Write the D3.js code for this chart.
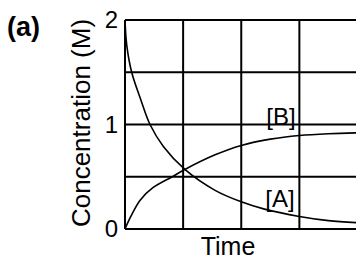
<!DOCTYPE html>
<html>
<head>
<meta charset="utf-8">
<script src="https://cdn.jsdelivr.net/npm/d3@7"></script>
<style>
	body { margin: 0; background: #fff; }
	text { font-family: "Liberation Sans", Arial, sans-serif; fill: #000; }
</style>
</head>
<body>
<script>
// values (time in grid units)
var timeA = [0, 0.03, 0.115, 0.27, 0.43, 0.66, 1.03, 1.55, 2.0, 2.4, 3.0, 3.5, 4.0];
var concA = [2.0, 1.76, 1.5, 1.24, 1.0, 0.79, 0.57, 0.37, 0.26, 0.19, 0.12, 0.08, 0.06];
var timeB = [0, 0.1, 0.26, 0.48, 0.83, 1.03, 1.55, 2.0, 2.5, 3.0, 3.5, 4.0];
var concB = [0, 0.12, 0.276, 0.395, 0.505, 0.57, 0.71, 0.80, 0.86, 0.895, 0.912, 0.92];
var yTicks = [0, 1, 2];
var yGrid = [0, 0.5, 1, 1.5, 2];
var xGrid = [0, 1, 2, 3, 4];

var svg = d3.select("body").append("svg")
	.attr("width", 356)
	.attr("height", 259);

var x = d3.scaleLinear().domain([0, 4]).range([125, 357.5]);
var y = d3.scaleLinear().domain([0, 2]).range([229, 20]);

// grid
svg.selectAll("line.h")
	.data(yGrid)
	.enter()
	.append("line")
	.attr("x1", x(0)).attr("x2", x(4))
	.attr("y1", function(d) { return y(d); })
	.attr("y2", function(d) { return y(d); })
	.attr("stroke", "#000")
	.attr("stroke-width", 2);

svg.selectAll("line.v")
	.data(xGrid)
	.enter()
	.append("line")
	.attr("y1", y(0)).attr("y2", y(2))
	.attr("x1", function(d) { return x(d); })
	.attr("x2", function(d) { return x(d); })
	.attr("stroke", "#000")
	.attr("stroke-width", 2);

// y tick labels
var yAxis = d3.axisLeft(y).tickValues(yTicks).tickSize(0).tickPadding(7).tickFormat(d3.format("d"));
var gy = svg.append("g").attr("transform", "translate(" + x(0) + ",0)").call(yAxis);
gy.select(".domain").remove();
gy.selectAll("text")
	.style("font-family", "'Liberation Sans', Arial, sans-serif")
	.style("font-size", "24px")
	.attr("fill", "#000");

// curves
var line = d3.line()
	.x(function(d) { return x(d[0]); })
	.y(function(d) { return y(d[1]); })
	.curve(d3.curveCatmullRom.alpha(0.5));

svg.append("path")
	.datum(d3.zip(timeA, concA))
	.attr("d", line)
	.attr("fill", "none")
	.attr("stroke", "#000")
	.attr("stroke-width", 1.6);

svg.append("path")
	.datum(d3.zip(timeB, concB))
	.attr("d", line)
	.attr("fill", "none")
	.attr("stroke", "#000")
	.attr("stroke-width", 1.6);

// labels
svg.append("text")
	.attr("x", 281).attr("y", 125)
	.attr("text-anchor", "middle")
	.style("font-size", "24px")
	.text("[B]");

svg.append("text")
	.attr("x", 280).attr("y", 207)
	.attr("text-anchor", "middle")
	.style("font-size", "24px")
	.text("[A]");

svg.append("text")
	.attr("x", 228).attr("y", 255)
	.attr("text-anchor", "middle")
	.style("font-size", "25px")
	.text("Time");

svg.append("text")
	.attr("transform", "translate(90,123) rotate(-90)")
	.attr("text-anchor", "middle")
	.style("font-size", "26px")
	.text("Concentration (M)");

svg.append("text")
	.attr("x", 7).attr("y", 36)
	.style("font-size", "27px")
	.style("font-weight", "bold")
	.text("(a)");
</script>
</body>
</html>
